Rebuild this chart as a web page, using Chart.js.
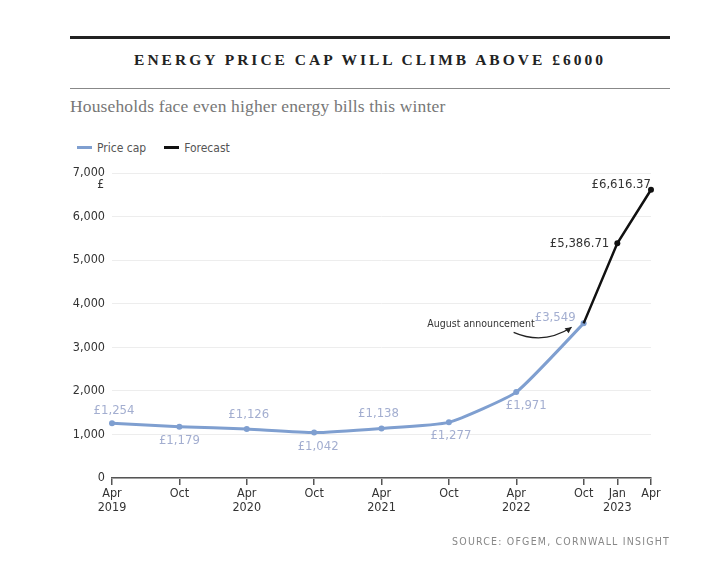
<!DOCTYPE html>
<html><head><meta charset="utf-8">
<script src="https://cdn.jsdelivr.net/npm/chart.js@4"></script>
<style>
html,body{margin:0;padding:0;background:#fff;width:723px;height:573px;overflow:hidden;}
#wrap{position:relative;width:723px;height:573px;}
canvas{position:absolute;left:0;top:0;}
.topline{position:absolute;left:70px;top:36px;width:600px;height:3px;background:#222;}
.thinline{position:absolute;left:70px;top:88px;width:600px;height:1px;background:#888;}
.title{position:absolute;left:70px;top:51px;width:600px;text-align:center;font-family:"Liberation Serif",serif;font-weight:bold;font-size:15.5px;letter-spacing:3px;color:#222;}
.sub{position:absolute;left:70px;top:96px;font-family:"Liberation Serif",serif;font-size:17.5px;color:#777;letter-spacing:0.15px;}
.legend{position:absolute;left:77px;top:141px;font-family:"Liberation Sans Narrow","DejaVu Sans Condensed",sans-serif;font-size:12px;color:#555;}
.legend span.sw{display:inline-block;width:15px;height:3px;vertical-align:middle;margin-right:5px;position:relative;top:-1px;}
.legend span.it{margin-right:18px;}
.source{position:absolute;right:53px;top:535px;font-family:"Liberation Sans Narrow","DejaVu Sans Condensed",sans-serif;font-size:10.5px;letter-spacing:1.2px;color:#888;}
</style></head>
<body><div id="wrap">
<div class="topline"></div>
<div class="title">ENERGY PRICE CAP WILL CLIMB ABOVE £6000</div>
<div class="thinline"></div>
<div class="sub">Households face even higher energy bills this winter</div>
<div class="legend"><span class="sw" style="background:#7f9fd0"></span><span class="it">Price cap</span><span class="sw" style="background:#111"></span><span>Forecast</span></div>
<canvas id="c" width="723" height="573"></canvas>
<div class="source">SOURCE: OFGEM, CORNWALL INSIGHT</div>
</div>
<script>
// months since Apr 2019
const capMonths = [0, 6, 12, 18, 24, 30, 36, 42];
const capValues = [1254, 1179, 1126, 1042, 1138, 1277, 1971, 3549];
const capLabels = ["£1,254","£1,179","£1,126","£1,042","£1,138","£1,277","£1,971","£3,549"];
const forecastMonths = [42, 45, 48];
const forecastValues = [3549, 5386.71, 6616.37];
const forecastLabels = ["", "£5,386.71", "£6,616.37"];
const xTickMonths = [0, 6, 12, 18, 24, 30, 36, 42, 45, 48];
const xTickLabels = [["Apr","2019"],"Oct",["Apr","2020"],"Oct",["Apr","2021"],"Oct",["Apr","2022"],"Oct",["Jan","2023"],"Apr"];
const yTicks = [0,1000,2000,3000,4000,5000,6000,7000];

const FONT = '"Liberation Sans Narrow","DejaVu Sans Condensed",sans-serif';
const BLUE = '#7f9fd0';
const BLUE_LBL = '#a3aed0';

// label placement: [dx, dy, align]
const capPlace = [[2,-13,'center'],[0,14,'center'],[2,-14,'center'],[4,14,'center'],[-3,-15,'center'],[2,13,'center'],[10,14,'center'],[-8,-6,'right']];
const fcPlace = [null,[-8,0,'right'],[0,-5,'right']];

const labelsPlugin = {
  id:'lbls',
  afterDatasetsDraw(chart){
    const ctx = chart.ctx;
    ctx.save();
    ctx.font = '13px '+FONT;
    ctx.textBaseline = 'middle';
    const m0 = chart.getDatasetMeta(0);
    m0.data.forEach((p,i)=>{
      const pl = capPlace[i];
      ctx.fillStyle = BLUE_LBL;
      ctx.textAlign = pl[2];
      ctx.fillText(capLabels[i], p.x+pl[0], p.y+pl[1]);
    });
    const m1 = chart.getDatasetMeta(1);
    m1.data.forEach((p,i)=>{
      const pl = fcPlace[i];
      if(!pl) return;
      ctx.fillStyle = '#333';
      ctx.textAlign = pl[2];
      ctx.fillText(forecastLabels[i], p.x+pl[0], p.y+pl[1]);
    });
    // annotation
    const p = m0.data[7];
    ctx.font = '10.5px '+FONT;
    ctx.fillStyle = '#333';
    ctx.textAlign = 'right';
    ctx.fillText('August announcement', p.x-49, p.y+1);
    ctx.strokeStyle = '#222';
    ctx.lineWidth = 1.2;
    ctx.beginPath();
    const sx = p.x-70, sy = p.y+9, ex = p.x-12, ey = p.y+4;
    ctx.moveTo(sx, sy);
    ctx.quadraticCurveTo(p.x-40, p.y+22, ex, ey);
    ctx.stroke();
    ctx.beginPath();
    ctx.moveTo(ex, ey);
    ctx.lineTo(ex-7, ey+1);
    ctx.lineTo(ex-3, ey+6);
    ctx.closePath();
    ctx.fillStyle='#222';
    ctx.fill();
    // £ unit under 7,000
    const ys = chart.scales.y;
    ctx.font = '12px '+FONT;
    ctx.fillStyle = '#333';
    ctx.textAlign = 'right';
    ctx.fillText('£', ys.right-8, ys.getPixelForValue(7000)+12);
    ctx.restore();
  }
};

new Chart(document.getElementById('c'), {
  type:'line',
  data:{
    datasets:[
      {label:'Price cap', data:capMonths.map((m,i)=>({x:m,y:capValues[i]})), borderColor:BLUE, backgroundColor:BLUE, borderWidth:3, pointRadius:3, pointBackgroundColor:BLUE, pointBorderWidth:0, tension:0.15, order:2, clip:false},
      {label:'Forecast', data:forecastMonths.map((m,i)=>({x:m,y:forecastValues[i]})), borderColor:'#111', backgroundColor:'#111', borderWidth:2.5, pointRadius:[0,3,3], pointBorderWidth:0, pointBackgroundColor:'#111', tension:0, order:1, clip:false}
    ]
  },
  options:{
    responsive:false, animation:false,
    layout:{padding:{left:60, right:72, top:173, bottom:52}},
    plugins:{legend:{display:false}, tooltip:{enabled:false}},
    scales:{
      x:{type:'linear', min:0, max:48,
        afterFit(s){ s.height = 43; },
        afterBuildTicks(s){ s.ticks = xTickMonths.map(v=>({value:v})); },
        ticks:{autoSkip:false, maxRotation:0, padding:2, color:'#333', font:{family:FONT, size:12.5, lineHeight:1.1},
          callback(v){ const i = xTickMonths.indexOf(v); return i>=0 ? xTickLabels[i] : ''; }},
        grid:{drawOnChartArea:false, drawTicks:true, tickLength:7, color:'#555', lineWidth:1.5},
        border:{display:true, color:'#555', width:1.5}
      },
      y:{min:0, max:7000,
        afterFit(s){ s.width = 52; },
        afterBuildTicks(s){ s.ticks = yTicks.map(v=>({value:v})); },
        ticks:{padding:7, color:'#333', font:{family:FONT, size:12.5},
          callback(v){ return v.toLocaleString('en-US'); }},
        grid:{color:'#ededed', lineWidth:1, drawTicks:false},
        border:{display:false}
      }
    }
  },
  plugins:[labelsPlugin]
});
</script>
</body></html>
